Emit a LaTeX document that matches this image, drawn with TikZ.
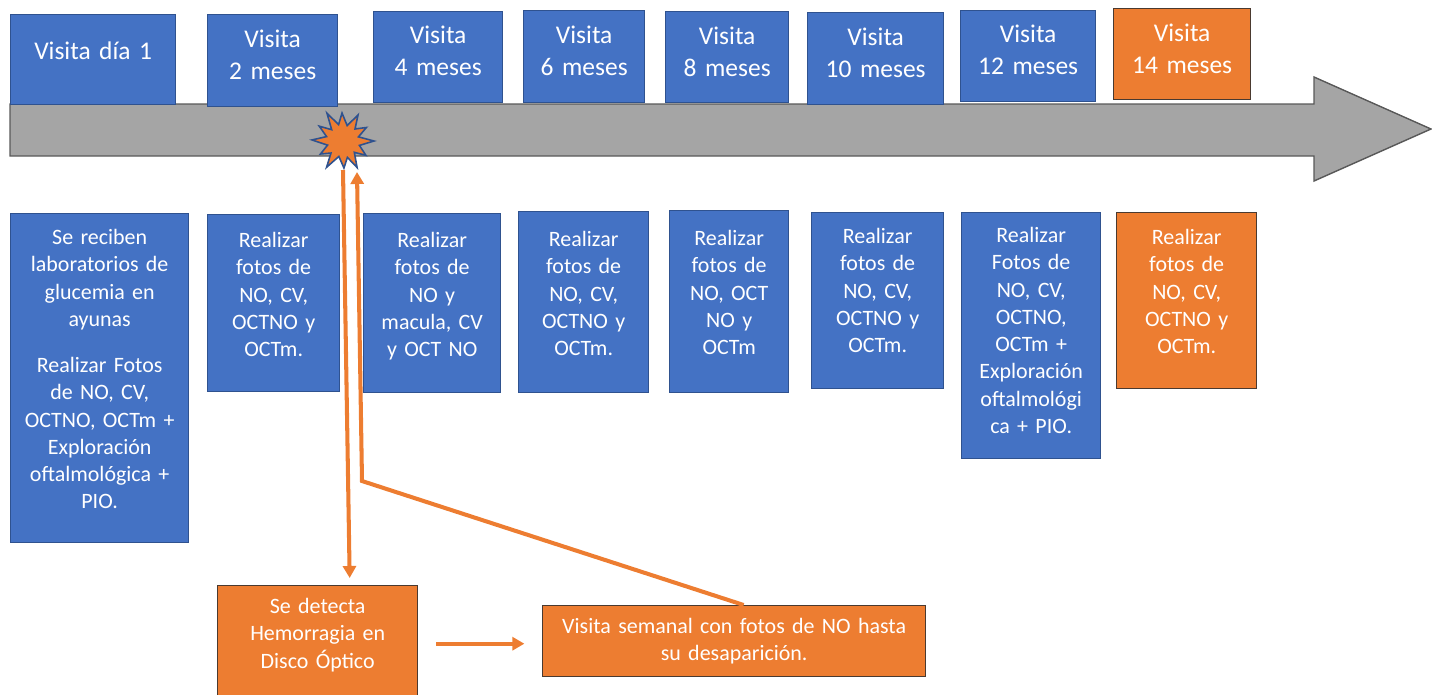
\documentclass[tikz,border=0pt]{standalone}
\usepackage{fontspec}
\setmainfont{Carlito}
\usetikzlibrary{arrows.meta}
\definecolor{visitblue}{HTML}{4472C4}
\definecolor{blueedge}{HTML}{2F528F}
\definecolor{alertorange}{HTML}{ED7D31}
\definecolor{orangeedge}{HTML}{4A3A30}
\definecolor{axisgray}{HTML}{A5A5A5}
\definecolor{axisedge}{HTML}{595959}

\begin{document}
\begin{tikzpicture}[x=0.02cm,y=-0.02cm,
  box/.style={draw=blueedge,fill=visitblue,line width=0.8pt,text=white,
    inner sep=0pt,align=center,anchor=north west},
  topbox/.style={box,font=\fontsize{14.5}{18.1}\selectfont},
  lowbox/.style={box,font=\fontsize{12.5}{15.5}\selectfont},
  late/.style={fill=alertorange,draw=orangeedge},
  link/.style={draw=alertorange,line width=2.3pt,
    -{Triangle[length=0.24cm,width=0.26cm]}}]
\useasboundingbox (0,0) rectangle (1432,694);

% time axis
\draw[fill=axisgray,draw=axisedge,line width=0.8pt] (10,104) -- (1314,104)
  -- (1314,77) -- (1431,129) -- (1314,181) -- (1314,156) -- (10,156) -- cycle;

% visits on the axis
\node[topbox,text width=3.30cm,text height=0.90cm,text depth=0.90cm] (v1) at (10,14) {Visita día 1};
\node[topbox,text width=2.60cm,text height=0.66cm,text depth=1.18cm] (v2) at (207,14) {Visita\\2 meses};
\node[topbox,text width=2.58cm,text height=0.64cm,text depth=1.18cm] (v4) at (373,11) {Visita\\4 meses};
\node[topbox,text width=2.42cm,text height=0.66cm,text depth=1.18cm] (v6) at (523,10) {Visita\\6 meses};
\node[topbox,text width=2.46cm,text height=0.66cm,text depth=1.16cm] (v8) at (665,11) {Visita\\8 meses};
\node[topbox,text width=2.72cm,text height=0.66cm,text depth=1.18cm] (v10) at (807,12) {Visita\\10 meses};
\node[topbox,text width=2.70cm,text height=0.64cm,text depth=1.18cm] (v12) at (960,10) {Visita\\12 meses};
\node[topbox,late,text width=2.74cm,text height=0.66cm,text depth=1.16cm] (v14) at (1113,8) {Visita\\14 meses};

% hemorrhage mark
\coordinate (burst) at (343,141);
\draw[shift={(burst)},fill=alertorange,draw=blueedge,line width=0.9pt]
  (0:31) -- (15:17) -- (32:27) -- (45:16) -- (62:30) -- (75:17) -- (88:27)
  -- (105:16) -- (122:31) -- (135:17) -- (150:26) -- (165:16) -- (182:31)
  -- (195:17) -- (212:28) -- (225:16) -- (240:32) -- (255:17) -- (268:28)
  -- (285:16) -- (300:30) -- (315:17) -- (330:27) -- (345:16) -- cycle;

% tasks of each visit
\node[lowbox,text width=3.56cm,text height=0.62cm,text depth=5.96cm] (p1) at (10,213)
  {Se reciben\\laboratorios de\\glucemia en\\ayunas\\[0.38cm]Realizar Fotos\\de NO, CV,\\OCTNO, OCTm +\\Exploración\\oftalmológica +\\PIO.};
\node[lowbox,text width=2.64cm,text height=0.66cm,text depth=2.88cm] (p2) at (207,214)
  {Realizar\\fotos de\\NO, CV,\\OCTNO y\\OCTm.};
\node[lowbox,text width=2.74cm,text height=0.68cm,text depth=2.90cm] (p4) at (363,213)
  {Realizar\\fotos de\\NO y\\macula, CV\\y OCT NO};
\node[lowbox,text width=2.60cm,text height=0.70cm,text depth=2.92cm] (p6) at (518,211)
  {Realizar\\fotos de\\NO, CV,\\OCTNO y\\OCTm.};
\node[lowbox,text width=2.38cm,text height=0.70cm,text depth=2.94cm] (p8) at (669,210)
  {Realizar\\fotos de\\NO, OCT\\NO y\\OCTm};
\node[lowbox,text width=2.64cm,text height=0.62cm,text depth=2.90cm] (p10) at (811,212)
  {Realizar\\fotos de\\NO, CV,\\OCTNO y\\OCTm.};
\node[lowbox,text width=2.78cm,text height=0.60cm,text depth=4.32cm] (p12) at (961,212)
  {Realizar\\Fotos de\\NO, CV,\\OCTNO,\\OCTm +\\Exploración\\oftalmológi\\ca + PIO.};
\node[lowbox,late,text width=2.80cm,text height=0.64cm,text depth=2.88cm] (p14) at (1116,212)
  {Realizar\\fotos de\\NO, CV,\\OCTNO y\\OCTm.};

% follow-up after the finding
\node[lowbox,late,text width=4.00cm,text height=0.56cm,text depth=1.76cm] (found) at (217,585)
  {Se detecta\\Hemorragia en\\Disco Óptico};
\node[lowbox,late,text width=7.66cm,text height=0.56cm,text depth=0.86cm] (weekly) at (542,605)
  {Visita semanal con fotos de NO hasta\\su desaparición.};

\coordinate (bend) at (362,481);
\draw[link] ([yshift=-0.58cm]burst) -- ([xshift=0.64cm,yshift=0.14cm]found.north);
\draw[link] ([xshift=0.19cm]weekly.north) -- (bend) -- ([xshift=0.28cm,yshift=-0.62cm]burst);
\draw[link] ([xshift=0.36cm]found.east) -- ++(88,0);
\end{tikzpicture}
\end{document}
